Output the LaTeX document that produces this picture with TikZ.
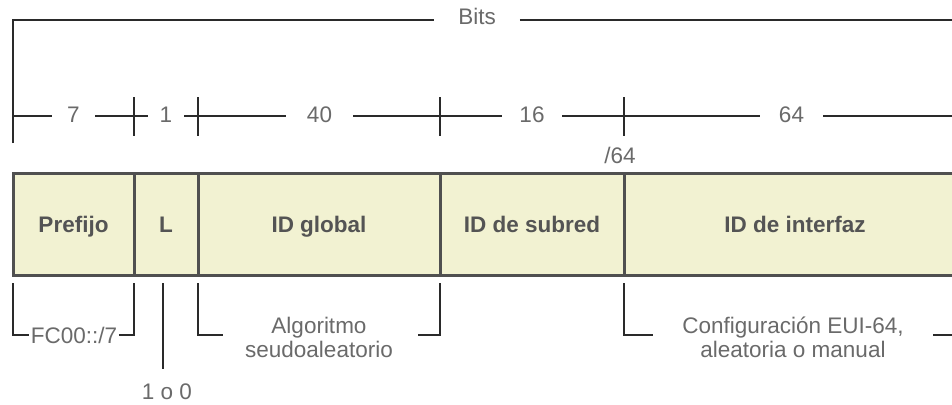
\documentclass[tikz,border=0pt]{standalone}
\usepackage{fontspec}
\setmainfont{Liberation Sans}
\definecolor{fieldfill}{HTML}{F2F2D2}
\definecolor{fieldline}{HTML}{505050}
\definecolor{txt}{HTML}{6A6A6A}
\definecolor{boldtxt}{HTML}{545454}
\definecolor{rulec}{HTML}{2A2A2A}
\begin{document}
\begin{tikzpicture}[x=1pt,y=-1pt,
  field/.style={draw=fieldline, line width=3pt, fill=fieldfill, minimum height=102pt,
    inner sep=0pt, text height=18pt, text depth=2pt,
    font=\fontsize{22.5}{26}\selectfont\bfseries, text=boldtxt},
  lbl/.style={font=\fontsize{22.5}{26}\selectfont, text=txt, inner ysep=0pt, anchor=base},
  rl/.style={draw=rulec, line width=1.6pt},
]
\useasboundingbox (0,0) rectangle (952,404);
\fill[white] (0,0) rectangle (952,404);

% fields
\node[field, minimum width=121pt] (pre)  at (73.5,224) {Prefijo};
\node[field, minimum width=64pt]  (L)    at (166,224)  {L};
\node[field, minimum width=242pt] (glob) at (319,224)  {ID global};
\node[field, minimum width=184pt] (sub)  at (532,224)  {ID de subred};
\node[field, minimum width=342pt] (intf) at (795,224)  {ID de interfaz};

% Bits bracket
\node[lbl, inner xsep=24pt] (bits) at (477,25) {Bits};
\coordinate (bl) at (13,143);
\coordinate (bc) at (13,20);
\coordinate (br) at (970,20);
\draw[rl] (bl) -- (bc) -- (bits.west |- bc);
\draw[rl] (bits.east |- bc) -- (br);

% bit counts
\node[lbl, inner xsep=15.25pt] (n7)  at (73.5,122)  {7};
\node[lbl, inner xsep=11.75pt] (n1)  at (166,122)   {1};
\node[lbl, inner xsep=21pt]    (n40) at (319.5,122) {40};
\node[lbl, inner xsep=17.5pt]  (n16) at (532,122)   {16};
\node[lbl, inner xsep=19pt]    (n64) at (791.5,122) {64};
\coordinate (dl) at (13,116);
\coordinate (dr) at (970,116);
\draw[rl] (dl) -- (n7.west |- dl);
\draw[rl] (n7.east |- dl) -- (n1.west |- dl);
\draw[rl] (n1.east |- dl) -- (n40.west |- dl);
\draw[rl] (n40.east |- dl) -- (n16.west |- dl);
\draw[rl] (n16.east |- dl) -- (n64.west |- dl);
\draw[rl] (n64.east |- dl) -- (dr);
\foreach \x in {134,198,440,624} \draw[rl] (\x,97) -- (\x,136);

\node[lbl] (p64) at (620,163) {/64};

% lower brackets
\coordinate (by) at (0,335);
\node[lbl, inner xsep=1.5pt] (fc) at (74,343) {FC00::/7};
\draw[rl] (13,283) -- (13,335) -- (fc.west |- by);
\draw[rl] (fc.east |- by) -- (134,335) -- (134,283);

\node[lbl] (oz) at (167,399) {1 o 0};
\coordinate (ozt) at (163,283);
\coordinate (ozb) at (163,369);
\draw[rl] (ozt) -- (ozb);

\node[lbl] (algo1) at (319,333) {Algoritmo};
\node[lbl] (algo2) at (319,357) {seudoaleatorio};
\coordinate (al) at (223,335);
\coordinate (ar) at (418,335);
\draw[rl] (198,283) -- (198,335) -- (al);
\draw[rl] (ar) -- (440,335) -- (440,283);

\node[lbl] (conf1) at (793,333) {Configuración EUI-64,};
\node[lbl] (conf2) at (793,357) {aleatoria o manual};
\coordinate (cl) at (653,335);
\coordinate (cr) at (933,335);
\draw[rl] (624,283) -- (624,335) -- (cl);
\draw[rl] (cr) -- (970,335);
\end{tikzpicture}
\end{document}
